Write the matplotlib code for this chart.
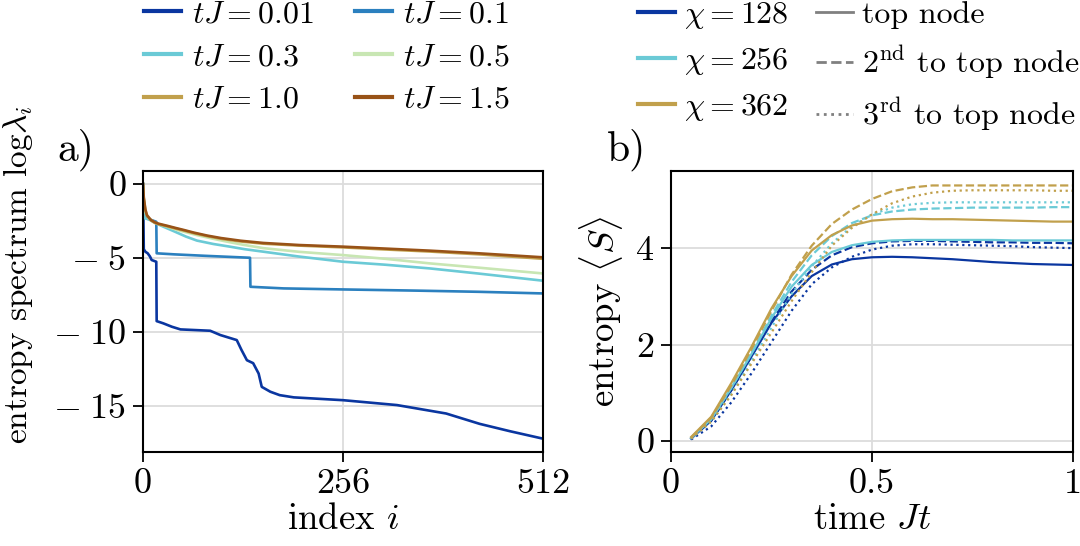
import matplotlib

matplotlib.use("Agg")
import matplotlib.pyplot as plt
from matplotlib.lines import Line2D
from matplotlib.ticker import FixedLocator, FixedFormatter

plt.rcParams["font.family"] = "serif"
plt.rcParams["font.serif"] = ["cmr10"]
plt.rcParams["mathtext.fontset"] = "cm"
plt.rcParams["axes.unicode_minus"] = False

# ---- panel a: entropy spectrum vs index ----
TJ_LABELS = ["0.01", "0.1", "0.3", "0.5", "1.0", "1.5"]
TJ_COLORS = ["#0a36a0", "#2b80bf", "#6bcad6", "#c8e6b3", "#c1a04c", "#985217"]

idx_001 = [0, 1, 3, 6, 9, 11, 17, 17.5, 26, 37, 48, 86, 99, 120, 126, 133, 141, 148,
           152, 163, 175, 193, 256, 325, 388, 431, 470, 512]
spec_001 = [0, -4.4, -4.57, -4.68, -4.9, -5.13, -5.25, -9.26, -9.41, -9.64, -9.82,
            -9.91, -10.2, -10.54, -11.2, -11.9, -12.1, -12.8, -13.7, -14.03, -14.26,
            -14.41, -14.6, -14.93, -15.5, -16.2, -16.7, -17.2]
idx_01 = [0, 1, 5, 17, 17.5, 40, 80, 137, 137.5, 180, 256, 350, 430, 512]
spec_01 = [0, -2.2, -2.32, -2.55, -4.68, -4.75, -4.85, -4.98, -6.94, -7.05, -7.12,
           -7.2, -7.28, -7.39]
idx_03 = [0, 1, 2, 9, 15, 26, 40, 55, 69, 90, 110, 130, 154, 200, 256, 310, 367, 430, 512]
spec_03 = [0, -1.3, -2.3, -2.43, -2.62, -2.88, -3.2, -3.55, -3.82, -4.05, -4.22, -4.4,
           -4.57, -4.9, -5.25, -5.45, -5.7, -6.05, -6.53]
idx_05 = [0, 1, 3, 8, 15, 26, 45, 69, 90, 110, 130, 154, 200, 256, 310, 367, 430, 512]
spec_05 = [0, -1.1, -1.9, -2.35, -2.6, -2.8, -3.12, -3.45, -3.7, -3.92, -4.12, -4.33,
           -4.58, -4.8, -5.05, -5.36, -5.65, -6.04]
idx_10 = [0, 1, 3, 5, 10, 15, 20, 31, 42, 52, 65, 82, 100, 125, 154, 200, 256, 310,
          367, 430, 512]
spec_10 = [0, -1.0, -1.75, -2.15, -2.45, -2.62, -2.72, -2.86, -3.01, -3.14, -3.32,
           -3.52, -3.7, -3.88, -4.03, -4.16, -4.28, -4.42, -4.56, -4.75, -5.05]
idx_15 = [0, 1, 3, 5, 10, 15, 20, 31, 42, 52, 65, 82, 100, 125, 154, 200, 256, 310,
          367, 430, 512]
spec_15 = [0, -0.9, -1.7, -2.1, -2.42, -2.58, -2.68, -2.82, -2.97, -3.1, -3.28,
           -3.48, -3.65, -3.83, -3.98, -4.12, -4.23, -4.36, -4.5, -4.68, -4.95]

SPEC_IDX = [idx_001, idx_01, idx_03, idx_05, idx_10, idx_15]
SPEC_VAL = [spec_001, spec_01, spec_03, spec_05, spec_10, spec_15]

# ---- panel b: entropy vs time ----
time_jt = [0.05, 0.10, 0.15, 0.20, 0.25, 0.30, 0.35, 0.40, 0.45, 0.50,
           0.55, 0.60, 0.65, 0.70, 0.75, 0.80, 0.85, 0.90, 0.95, 1.00]

# top node
s128_top = [0.05, 0.42, 1.05, 1.75, 2.45, 3.0, 3.42, 3.66, 3.77, 3.81,
            3.82, 3.81, 3.79, 3.77, 3.74, 3.71, 3.69, 3.67, 3.66, 3.65]
s256_top = [0.06, 0.45, 1.1, 1.8, 2.55, 3.2, 3.65, 3.92, 4.06, 4.13,
            4.16, 4.17, 4.17, 4.17, 4.17, 4.17, 4.16, 4.16, 4.16, 4.16]
s362_top = [0.08, 0.50, 1.2, 1.95, 2.75, 3.42, 3.95, 4.27, 4.47, 4.57,
            4.6, 4.61, 4.6, 4.6, 4.59, 4.58, 4.57, 4.56, 4.55, 4.55]
# 2nd to top node
s128_2nd = [0.05, 0.42, 1.05, 1.75, 2.48, 3.1, 3.55, 3.85, 4.02, 4.1,
            4.14, 4.15, 4.15, 4.14, 4.13, 4.12, 4.12, 4.11, 4.11, 4.1]
s256_2nd = [0.06, 0.45, 1.1, 1.82, 2.6, 3.3, 3.85, 4.25, 4.52, 4.68,
            4.76, 4.8, 4.82, 4.83, 4.84, 4.84, 4.84, 4.84, 4.85, 4.85]
s362_2nd = [0.07, 0.48, 1.15, 1.9, 2.7, 3.45, 4.05, 4.5, 4.8, 5.02,
            5.18, 5.26, 5.3, 5.3, 5.3, 5.3, 5.3, 5.3, 5.3, 5.3]
# 3rd to top node
s128_3rd = [0.03, 0.3, 0.8, 1.4, 2.05, 2.7, 3.25, 3.6, 3.82, 3.97,
            4.05, 4.08, 4.08, 4.07, 4.06, 4.05, 4.04, 4.02, 4.01, 4.0]
s256_3rd = [0.05, 0.4, 0.98, 1.65, 2.35, 3.05, 3.62, 4.1, 4.45, 4.7,
            4.84, 4.91, 4.94, 4.95, 4.95, 4.95, 4.95, 4.95, 4.95, 4.95]
s362_3rd = [0.05, 0.4, 0.95, 1.6, 2.25, 2.9, 3.5, 4.05, 4.42, 4.7,
            4.93, 5.07, 5.15, 5.19, 5.2, 5.2, 5.2, 5.2, 5.19, 5.19]

CHI_LABELS = ["128", "256", "362"]
CHI_COLORS = ["#0a36a0", "#6bcad6", "#c1a04c"]
NODE_LABELS = ["top node", r"2$^{\mathrm{nd}}$ to top node", r"3$^{\mathrm{rd}}$ to top node"]
NODE_STYLES = ["-", "--", ":"]
ENTROPY = [
    [s128_top, s128_2nd, s128_3rd],
    [s256_top, s256_2nd, s256_3rd],
    [s362_top, s362_2nd, s362_3rd],
]

TICK_FS = 26
LABEL_FS = 26.5
LEG_FS = 23
GRID_KW = dict(color="#dcdcdc", linewidth=1.3)


def style_axes(ax):
    for sp in ax.spines.values():
        sp.set_linewidth(1.5)
    ax.tick_params(direction="out", length=7, width=1.3, labelsize=TICK_FS, pad=5)
    ax.grid(True, **GRID_KW)
    ax.set_axisbelow(True)


fig = plt.figure(figsize=(10.8, 5.46), dpi=100)

ax1 = fig.add_axes([143 / 1080, 94 / 546, 400 / 1080, 281 / 546])
for xs, ys, c in zip(SPEC_IDX, SPEC_VAL, TJ_COLORS):
    ax1.plot(xs, ys, color=c, lw=1.9, solid_joinstyle="round")
ax1.set_xlim(0, 512)
ax1.set_ylim(-18.1, 0.88)
ax1.xaxis.set_major_locator(FixedLocator([0, 256, 512]))
ax1.xaxis.set_major_formatter(FixedFormatter(["0", "256", "512"]))
ax1.yaxis.set_major_locator(FixedLocator([0, -5, -10, -15]))
ax1.yaxis.set_major_formatter(FixedFormatter(["0", r"$-\;5$", r"$-\;10$", r"$-\;15$"]))
style_axes(ax1)
ax1.set_xlabel(r"index $i$", fontsize=LABEL_FS, labelpad=2)
ax1.set_ylabel(r"entropy spectrum log$\lambda_i$", fontsize=24)
ax1.yaxis.set_label_coords(-0.27, 0.63)

ax2 = fig.add_axes([671 / 1080, 94 / 546, 402 / 1080, 281 / 546])
for rows, c in zip(ENTROPY, CHI_COLORS):
    for ys, ls in zip(rows, NODE_STYLES):
        ax2.plot(time_jt, ys, color=c, ls=ls, lw=1.6)
ax2.set_xlim(0, 1)
ax2.set_ylim(-0.23, 5.6)
ax2.xaxis.set_major_locator(FixedLocator([0, 0.5, 1]))
ax2.xaxis.set_major_formatter(FixedFormatter(["0", "0.5", "1"]))
ax2.yaxis.set_major_locator(FixedLocator([0, 2, 4]))
ax2.yaxis.set_major_formatter(FixedFormatter(["0", "2", "4"]))
style_axes(ax2)
ax2.set_xlabel(r"time $Jt$", fontsize=LABEL_FS, labelpad=2)
ax2.set_ylabel(r"entropy $\langle S\rangle$", fontsize=LABEL_FS)
ax2.yaxis.set_label_coords(-0.115, 0.5)

fig.text(76 / 1080, 1 - 150 / 546, "a)", fontsize=30, ha="center", va="center")
fig.text(626 / 1080, 1 - 150 / 546, "b)", fontsize=30, ha="center", va="center")

# legends
tj_handles = [Line2D([0], [0], color=c, lw=3) for c in TJ_COLORS]
tj_labels = [rf"$tJ = {v}$" for v in TJ_LABELS]
order = [0, 2, 4, 1, 3, 5]
fig.legend([tj_handles[k] for k in order], [tj_labels[k] for k in order],
           loc="upper left", bbox_to_anchor=(144 / 1080, 1.0), ncol=2,
           frameon=False, fontsize=LEG_FS, borderpad=0, borderaxespad=0,
           handlelength=1.15, handletextpad=0.35, columnspacing=1.3, labelspacing=0.45)

chi_handles = [Line2D([0], [0], color=c, lw=3) for c in CHI_COLORS]
node_handles = [Line2D([0], [0], color="#808080", lw=2, ls=ls) for ls in NODE_STYLES]
fig.legend(chi_handles + node_handles,
           [rf"$\chi = {v}$" for v in CHI_LABELS] + NODE_LABELS,
           loc="upper left", bbox_to_anchor=(638 / 1080, 1.0), ncol=2,
           frameon=False, fontsize=LEG_FS, borderpad=0, borderaxespad=0,
           handlelength=1.15, handletextpad=0.3, columnspacing=0.85, labelspacing=0.45)

fig.savefig("out.png", dpi=100)
